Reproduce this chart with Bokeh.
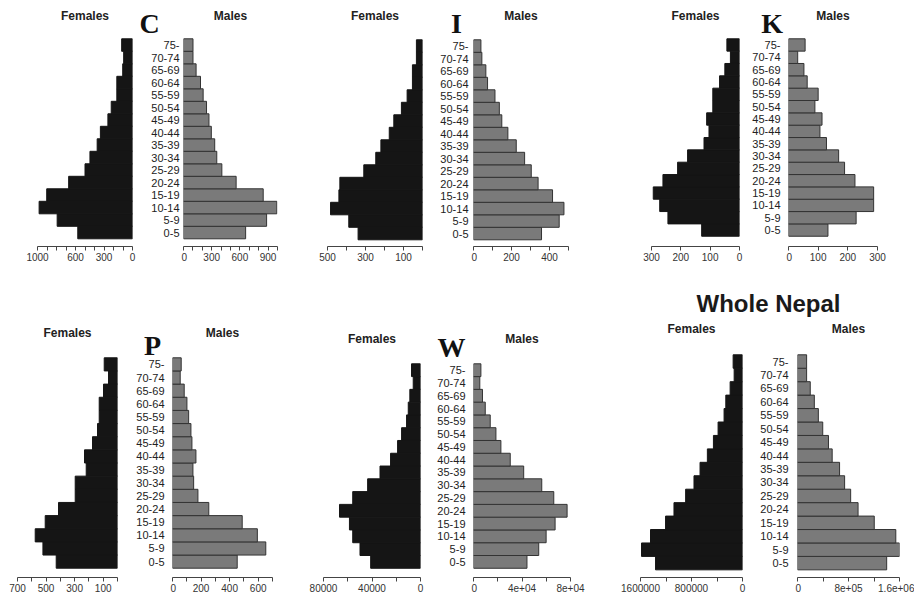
from bokeh.plotting import figure
from bokeh.models import Range1d, FixedTicker, Label, Spacer
from bokeh.layouts import row, column
from bokeh.core.properties import value
from bokeh.embed import file_html
from bokeh.resources import INLINE

# ---------------- data (bottom -> top) ----------------
ages = ["0-5", "5-9", "10-14", "15-19", "20-24", "25-29", "30-34", "35-39",
        "40-44", "45-49", "50-54", "55-59", "60-64", "65-69", "70-74", "75-"]

C_female = [576, 793, 983, 903, 672, 500, 448, 372, 338, 259, 224, 165, 165, 103, 93, 114]
C_male = [661, 884, 993, 848, 560, 408, 354, 332, 296, 271, 245, 209, 181, 134, 101, 101]
I_female = [339, 388, 484, 440, 435, 309, 246, 219, 175, 151, 111, 81, 53, 53, 32, 32]
I_male = [358, 451, 476, 416, 340, 304, 269, 225, 181, 149, 136, 113, 74, 65, 44, 39]
K_female = [129, 244, 272, 294, 261, 211, 177, 121, 104, 112, 91, 91, 68, 50, 31, 43]
K_male = [133, 228, 287, 287, 224, 189, 169, 128, 106, 113, 89, 100, 63, 52, 31, 56]
P_female = [429, 522, 576, 506, 413, 296, 296, 219, 231, 175, 140, 128, 128, 98, 63, 93]
P_male = [453, 653, 594, 488, 254, 178, 148, 143, 164, 136, 129, 113, 101, 82, 54, 61]
W_female = [41100, 49900, 55900, 58600, 66800, 55900, 43600, 33400, 24700, 18900,
            15600, 11500, 10100, 8800, 6000, 7400]
W_male = [44100, 53800, 59900, 67300, 77200, 66200, 56300, 41400, 30300, 22600,
          18500, 13800, 9700, 7400, 5200, 6100]
N_female = [1364000, 1584000, 1443000, 1207000, 1075000, 892000, 761000, 666000,
            551000, 456000, 383000, 289000, 262000, 194000, 131000, 147000]
N_male = [1399000, 1663000, 1542000, 1204000, 950000, 834000, 739000, 660000,
          544000, 486000, 396000, 327000, 264000, 200000, 143000, 143000]

# axis ticks and their labels
C_f_ticks = [0, 100, 200, 300, 400, 500, 600, 700, 800, 900, 1000]
C_f_labels = ["0", "", "", "300", "", "", "600", "", "", "", "1000"]
C_m_ticks = [0, 100, 200, 300, 400, 500, 600, 700, 800, 900, 1000]
C_m_labels = ["0", "", "", "300", "", "", "600", "", "", "900", ""]
I_f_ticks = [0, 100, 200, 300, 400, 500]
I_f_labels = ["", "100", "", "300", "", "500"]
I_m_ticks = [0, 100, 200, 300, 400, 500]
I_m_labels = ["0", "", "200", "", "400", ""]
K_f_ticks = [0, 100, 200, 300]
K_f_labels = ["0", "100", "200", "300"]
K_m_ticks = [0, 100, 200, 300]
K_m_labels = ["0", "100", "200", "300"]
P_f_ticks = [0, 100, 200, 300, 400, 500, 600, 700]
P_f_labels = ["", "100", "", "300", "", "500", "", "700"]
P_m_ticks = [0, 100, 200, 300, 400, 500, 600, 700]
P_m_labels = ["0", "", "200", "", "400", "", "600", ""]
W_f_ticks = [0, 20000, 40000, 60000, 80000]
W_f_labels = ["0", "", "40000", "", "80000"]
W_m_ticks = [0, 20000, 40000, 60000, 80000]
W_m_labels = ["0", "", "4e+04", "", "8e+04"]
N_f_ticks = [0, 400000, 800000, 1200000, 1600000]
N_f_labels = ["0", "", "800000", "", "1600000"]
N_m_ticks = [0, 400000, 800000, 1200000, 1600000]
N_m_labels = ["0", "", "8e+05", "", "1.6e+06"]

SANS = "Liberation Sans"
SERIF = "Liberation Serif"
FEM_COL = "#151515"
MALE_FILL = "#7a7a7a"
MALE_LINE = "#333333"
N = len(ages)
YS = [i + 0.5 for i in range(N)]


def yrange(R, G):
    ft = R["top"] + R["bt"]
    fb = R["top"] + R["h"] - R["bb"]
    return Range1d(N - (fb - G["bar_top"]) / G["bar_px"],
                   N + (G["bar_top"] - ft) / G["bar_px"])


def ydata(G, py):
    return N + (G["bar_top"] - py) / G["bar_px"]


def base_fig(w, R, G, xr, bl, br, axis):
    p = figure(width=w, height=R["h"], x_range=xr, y_range=yrange(R, G),
               output_backend="svg", toolbar_location=None,
               min_border_left=bl, min_border_right=br,
               min_border_top=R["bt"], min_border_bottom=R["bb"],
               x_axis_location="below" if axis else None, y_axis_location=None)
    p.outline_line_color = None
    p.grid.grid_line_color = None
    return p


def half(vals, ticks, labels, female, w, bl, fw, R, G, title):
    xmax = ticks[-1]
    xr = Range1d(xmax, 0) if female else Range1d(0, xmax)
    p = base_fig(w, R, G, xr, bl, w - bl - fw, True)
    if female:
        p.hbar(y=YS, left=0, right=vals, height=1, fill_color=FEM_COL,
               line_color=FEM_COL, line_width=1)
    else:
        p.hbar(y=YS, left=0, right=vals, height=1, fill_color=MALE_FILL,
               line_color=MALE_LINE, line_width=1)
    xa = p.xaxis[0]
    xa.ticker = FixedTicker(ticks=ticks, minor_ticks=[])
    xa.major_label_overrides = {t: l for t, l in zip(ticks, labels)}
    xa.axis_line_color = "#444444"
    xa.major_tick_line_color = "#444444"
    xa.minor_tick_line_color = None
    xa.major_tick_out = 4
    xa.major_tick_in = 0
    xa.major_label_standoff = 2
    xa.major_label_text_font = SANS
    xa.major_label_text_font_size = "10px"
    xa.major_label_text_color = "#333333"
    p.add_layout(Label(x=xmax / 2, y=ydata(G, G["title_y"]), text=title,
                       text_align="center", text_baseline="middle", text_font=SANS,
                       text_font_size="12px", text_font_style="bold",
                       text_color="#222222"))
    return p


def center(w, R, G, label_right, letter=None, letter_x=0):
    p = base_fig(w, R, G, Range1d(0, w), 0, 0, False)
    p.text(x=[label_right] * N, y=YS, text=ages, text_align="right",
           text_baseline="middle", text_font=value(SANS), text_font_size="11px",
           text_color="#222222")
    if letter is not None:
        p.add_layout(Label(x=letter_x, y=ydata(G, G["letter_y"]), text=letter,
                           text_align="center", text_baseline="middle",
                           text_font=SERIF, text_font_size="28px",
                           text_font_style="bold", text_color="#111111"))
    return p


# ---------------- top row ----------------
R1 = dict(top=0, h=288, bt=2, bb=42)
gC = dict(bar_top=38.3, bar_px=12.5, title_y=15, letter_y=23)
gI = dict(bar_top=39.3, bar_px=12.5, title_y=15, letter_y=23)
gK = dict(bar_top=38.3, bar_px=12.34, title_y=15, letter_y=23)
cF = half(C_female, C_f_ticks, C_f_labels, True, 138, 37, 95, R1, gC, "Females")
cC = center(43, R1, gC, 41, "C", 11)
cM = half(C_male, C_m_ticks, C_m_labels, False, 119, 2, 94, R1, gC, "Males")
iF = half(I_female, I_f_ticks, I_f_labels, True, 128, 27, 95, R1, gI, "Females")
iC = center(43, R1, gI, 40, "I", 28)
iM = half(I_male, I_m_ticks, I_m_labels, False, 129, 2, 95, R1, gI, "Males")
kF = half(K_female, K_f_ticks, K_f_labels, True, 145, 51, 88, R1, gK, "Females")
kC = center(41, R1, gK, 35, "K", 26.7)
kM = half(K_male, K_m_ticks, K_m_labels, False, 128, 2, 89, R1, gK, "Males")
top = row(cF, cC, cM, iF, iC, iM, kF, kC, kM, spacing=0)

# ---------------- heading row ----------------
HDR = 30
hdr = figure(width=314, height=HDR, x_range=Range1d(0, 314), y_range=Range1d(0, HDR),
             output_backend="svg", toolbar_location=None, min_border=0,
             x_axis_location=None, y_axis_location=None)
hdr.outline_line_color = None
hdr.grid.grid_line_color = None
hdr.add_layout(Label(x=168, y=HDR - 15, text="Whole Nepal", text_align="center",
                     text_baseline="middle", text_font=SANS, text_font_size="24px",
                     text_font_style="bold", text_color="#1a1a1a"))
mid = row(Spacer(width=600, height=HDR), hdr, spacing=0)

# ---------------- bottom row ----------------
R2 = dict(top=318, h=277, bt=2, bb=18)
gP = dict(bar_top=357.3, bar_px=13.15, title_y=332, letter_y=345)
gW = dict(bar_top=363.3, bar_px=12.78, title_y=338, letter_y=347)
gN = dict(bar_top=354.3, bar_px=13.44, title_y=328, letter_y=0)
pF = half(P_female, P_f_ticks, P_f_labels, True, 123, 17, 100, R2, gP, "Females")
pC = center(47, R2, gP, 41, "P", 29)
pM = half(P_male, P_m_ticks, P_m_labels, False, 130, 2, 100, R2, gP, "Males")
wF = half(W_female, W_f_ticks, W_f_labels, True, 127, 23, 97, R2, gW, "Females")
wC = center(44, R2, gW, 38, "W", 24)
wM = half(W_male, W_m_ticks, W_m_labels, False, 129, 2, 97, R2, gW, "Males")
nF = half(N_female, N_f_ticks, N_f_labels, True, 148, 40, 102, R2, gN, "Females")
nC = center(47, R2, gN, 40)
nM = half(N_male, N_m_ticks, N_m_labels, False, 119, 2, 102, R2, gN, "Males")
bottom = row(pF, pC, pM, wF, wC, wM, nF, nC, nM, spacing=0)

layout = column(top, mid, bottom, spacing=0)

open("out.html", "w").write(file_html(layout, INLINE))
